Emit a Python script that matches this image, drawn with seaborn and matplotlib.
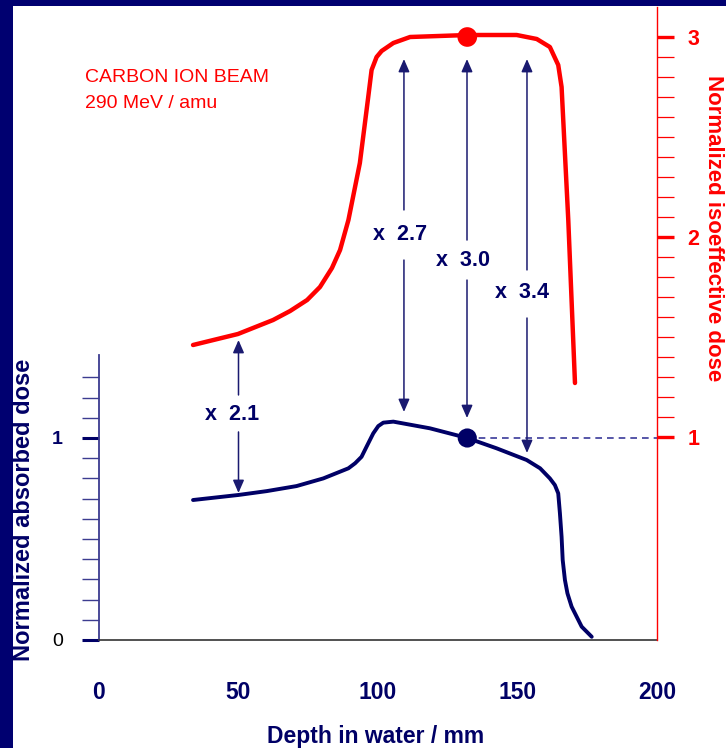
import matplotlib
matplotlib.use("Agg")
import matplotlib.pyplot as plt
import pandas as pd
import seaborn as sns
from matplotlib.patches import Rectangle

# Absorbed dose of the spread-out Bragg peak (left axis), depth in mm
absorbed_depth = [33.7, 50.0, 60.1, 70.8, 80.4, 89.4, 91.8, 94.1, 95.9, 98.3, 100.1,
                  101.9, 105.5, 118.6, 132.0, 142.5, 153.3, 158.1, 161.6, 163.4,
                  164.6, 165.2, 165.8, 166.2, 167.0, 167.9, 169.4, 173.0, 176.6]
absorbed_dose = [0.693, 0.718, 0.737, 0.762, 0.800, 0.850, 0.875, 0.907, 0.957, 1.023,
                 1.059, 1.076, 1.081, 1.048, 1.000, 0.949, 0.891, 0.850, 0.800, 0.767,
                 0.726, 0.628, 0.511, 0.396, 0.297, 0.231, 0.165, 0.066, 0.016]

# Isoeffective dose (right axis)
iso_depth = [33.7, 49.8, 62.4, 68.5, 74.6, 79.2, 83.5, 86.4, 89.4, 93.5, 96.5, 97.7,
             99.5, 101.3, 105.5, 111.5, 132.2, 149.7, 156.9, 161.6, 164.6, 165.8,
             168.2, 170.6]
iso_dose = [1.46, 1.515, 1.585, 1.63, 1.685, 1.75, 1.845, 1.935, 2.085, 2.37, 2.70,
            2.835, 2.90, 2.93, 2.97, 3.00, 3.01, 3.01, 2.99, 2.95, 2.86, 2.75,
            2.085, 1.27]

# Normalisation point
ref_depth = 132.0
ref_absorbed = 1.0
ref_iso = 3.0

# RBE factors at selected depths: depth, factor text, arrow spans (absorbed-dose units)
rbe_depth = [50.0, 109.3, 131.9, 153.4]
rbe_label = ["2.1", "2.7", "3.0", "3.4"]
rbe_up = [(1.213, 1.485), (2.129, 2.876), (1.980, 2.876), (1.832, 2.876)]
rbe_down = [(1.030, 0.728), (1.881, 1.129), (1.782, 1.099), (1.594, 0.926)]
rbe_text_pos = [(47.7, 1.114), (107.9, 2.005), (130.5, 1.881), (151.6, 1.718)]

x_ticks = [0, 50, 100, 150, 200]
left_ticks = [0, 1]
right_ticks = [1, 2, 3]

NAVY = "#000066"
RED = "#ff0000"
FONT = ["Liberation Sans", "DejaVu Sans"]

sns.set_theme(style="white")
plt.rcParams["font.family"] = FONT

fig = plt.figure(figsize=(7.26, 7.48), dpi=100)
fig.patch.set_facecolor("white")
W, H = 726, 748

# slide frame
fig.patches.append(Rectangle((0, 0), 13 / W, 1, transform=fig.transFigure,
                             facecolor="#000070", edgecolor="none", zorder=0))
fig.patches.append(Rectangle((0, 1 - 6 / H), 1, 6 / H, transform=fig.transFigure,
                             facecolor="#000070", edgecolor="none", zorder=0))

ax = fig.add_axes([99 / W, 108 / H, 558 / W, 633 / H])
ax.set_facecolor("none")
ax2 = ax.twinx()

absorbed = pd.DataFrame({"depth": absorbed_depth, "dose": absorbed_dose})
iso = pd.DataFrame({"depth": iso_depth, "dose": iso_dose})

sns.lineplot(data=absorbed, x="depth", y="dose", ax=ax, color=NAVY, lw=2.8,
             sort=False, estimator=None)
sns.scatterplot(x=[ref_depth], y=[ref_absorbed], ax=ax, color=NAVY, s=190,
                edgecolor="none", zorder=5)
sns.lineplot(data=iso, x="depth", y="dose", ax=ax2, color=RED, lw=3.2,
             sort=False, estimator=None)
sns.scatterplot(x=[ref_depth], y=[ref_iso], ax=ax2, color=RED, s=200,
                edgecolor="none", zorder=5)

# dashed guide from the reference point to the right axis
ax.plot([ref_depth, 200], [ref_absorbed, ref_absorbed], color="#3a3a99",
        lw=1.2, ls=(0, (4, 3)))

ax.set_xlim(0, 200)
ax.set_ylim(0, 633 / 202)
ax2.set_ylim(-0.015, 3.15)

arrow_kw = dict(arrowstyle="-|>,head_length=0.55,head_width=0.24", color="#1a1a70",
                lw=1.1, shrinkA=0, shrinkB=0, mutation_scale=14)
for d, lab, up, dn, tp in zip(rbe_depth, rbe_label, rbe_up, rbe_down, rbe_text_pos):
    ax.annotate("", xy=(d, up[1]), xytext=(d, up[0]), arrowprops=arrow_kw)
    ax.annotate("", xy=(d, dn[1]), xytext=(d, dn[0]), arrowprops=arrow_kw)
    ax.text(tp[0], tp[1], "x  " + lab, color=NAVY, fontsize=15.5, fontweight="bold",
            ha="center", va="center")

# axes styling
for s in ["top", "right"]:
    ax.spines[s].set_visible(False)
for s in ["top", "left", "bottom"]:
    ax2.spines[s].set_visible(False)
ax.spines["left"].set_bounds(0, 1.41)
ax.spines["left"].set_color("#3c3c90")
ax.spines["left"].set_linewidth(1.3)
ax.spines["bottom"].set_color("#333333")
ax.spines["bottom"].set_linewidth(1.2)
ax2.spines["right"].set_color(RED)
ax2.spines["right"].set_linewidth(1.0)

ax.set_xticks(x_ticks)
ax.set_xticklabels([str(t) for t in x_ticks])
ax.tick_params(axis="x", direction="out", length=11, width=1.2, color="#333333",
               pad=18.5, labelsize=16.5, labelcolor=NAVY)
for t in ax.get_xticklabels():
    t.set_fontweight("bold")

ax.set_yticks(left_ticks)
ax.set_yticks([0.1 * i for i in range(1, 14) if i != 10], minor=True)
ax.set_yticklabels([str(t) for t in left_ticks])
ax.tick_params(axis="y", which="major", direction="out", length=12, width=2.2,
               color=NAVY, pad=14, labelsize=14, left=True)
ax.tick_params(axis="y", which="minor", direction="out", length=12, width=1.0,
               color="#3c3c90", left=True)
ylabs = ax.get_yticklabels()
ylabs[0].set_color("black")
ylabs[1].set_color(NAVY)
ylabs[1].set_fontweight("bold")

ax2.set_yticks(right_ticks)
ax2.set_yticks([1 + 0.1 * i for i in range(1, 20) if i != 10], minor=True)
ax2.set_yticklabels([str(t) for t in right_ticks])
ax2.tick_params(axis="y", which="major", direction="out", length=12, width=2.4,
                color=RED, pad=10, labelsize=15.5, labelcolor=RED, right=True)
ax2.tick_params(axis="y", which="minor", direction="out", length=12, width=0.9,
                color=RED, right=True)
for t in ax2.get_yticklabels():
    t.set_fontweight("bold")

ax.set_xlabel("")
ax.set_ylabel("")
ax2.set_ylabel("")
ax.grid(False)
ax2.grid(False)

fig.text(376 / W, 1 - 743 / H, "Depth in water / mm", color=NAVY, fontsize=16.5,
         fontweight="bold", ha="center", va="baseline")
fig.text(23.5 / W, 1 - 510 / H, "Normalized absorbed dose", color=NAVY, fontsize=17,
         fontweight="bold", rotation=90, ha="center", va="center")
fig.text(714 / W, 1 - 228 / H, "Normalized isoeffective dose", color=RED, fontsize=16,
         fontweight="bold", rotation=270, ha="center", va="center")
fig.text(85 / W, 1 - 82 / H, "CARBON ION BEAM", color=RED, fontsize=14,
         ha="left", va="baseline")
fig.text(85 / W, 1 - 108 / H, "290 MeV / amu", color=RED, fontsize=14,
         ha="left", va="baseline")

fig.savefig("out.png", dpi=100)
